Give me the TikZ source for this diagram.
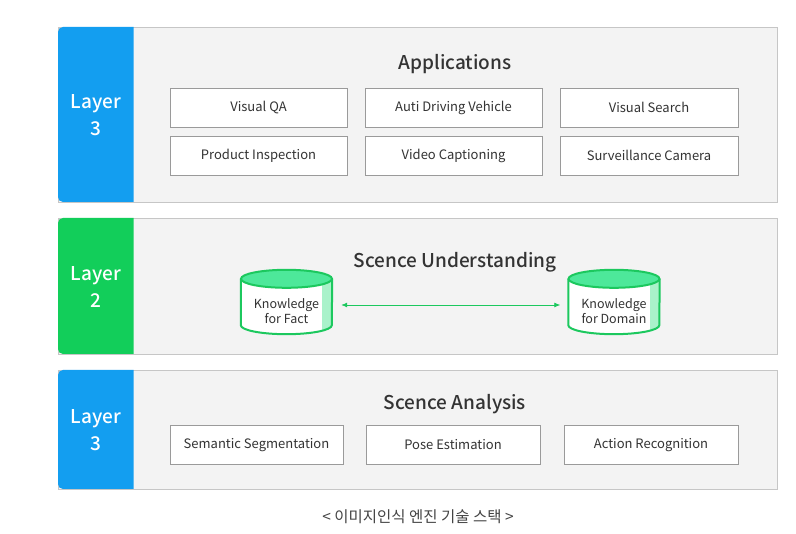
\documentclass[tikz,border=0pt]{standalone}
\usepackage{fontspec}
\setmainfont{Noto Sans CJK KR}[BoldFont={Noto Sans CJK KR Medium}]
\usetikzlibrary{arrows.meta}
\definecolor{tabblue}{HTML}{139EF0}
\definecolor{tabgreen}{HTML}{12CE5A}
\definecolor{panelfill}{HTML}{F3F3F3}
\definecolor{panelline}{HTML}{C6C6C6}
\definecolor{boxline}{HTML}{9A9A9A}
\definecolor{txt}{HTML}{333333}
\definecolor{captxt}{HTML}{444444}
\definecolor{cyltop}{HTML}{4DE89A}
\definecolor{cylline}{HTML}{1CC85E}
\definecolor{cylstrip}{HTML}{A9F2CA}
\tikzset{
  panel/.style={draw=panelline, fill=panelfill, line width=0.8pt},
  tablabel/.style={text=white, font=\fontsize{19}{27}\selectfont\bfseries, align=center},
  title/.style={text=txt, font=\fontsize{19}{22}\selectfont\bfseries},
  appbox/.style={draw=boxline, fill=white, line width=0.8pt, minimum height=39pt,
    text=txt, font=\fontsize{13}{15}\selectfont, inner sep=0pt},
  cyltext/.style={text=txt, font=\fontsize{12.5}{15}\selectfont, align=center,
    minimum width=91pt, minimum height=64pt, inner sep=0pt},
  link/.style={draw=cylline, line width=0.8pt, {Latex[length=6pt,width=5pt]}-{Latex[length=6pt,width=5pt]}},
}
% layer tab with rounded left corners: #1 colour, #2 top y, #3 bottom y
\newcommand{\layertab}[3]{%
  \fill[#1] (133.5,#2) [rounded corners=5pt] -- (58,#2) -- (58,#3) [sharp corners] -- (133.5,#3) -- cycle;
}
% cylinder drawn around a named node: #1 = node name
\newcommand{\drawcyl}[1]{%
  \begin{scope}
    \path[fill=white] ([yshift=-9pt]#1.north west) -- ([yshift=9pt]#1.south west)
      arc[start angle=180,end angle=360,x radius=45.5pt,y radius=9pt]
      -- ([yshift=-9pt]#1.north east) -- cycle;
    \clip ([yshift=-9pt]#1.north west) -- ([yshift=9pt]#1.south west)
      arc[start angle=180,end angle=360,x radius=45.5pt,y radius=9pt]
      -- ([yshift=-9pt]#1.north east) -- cycle;
    \fill[cylstrip] ([xshift=-10pt]#1.north east) rectangle (#1.south east);
  \end{scope}
  \draw[cylline, line width=2pt] ([yshift=-9pt]#1.north west) -- ([yshift=9pt]#1.south west)
      arc[start angle=180,end angle=360,x radius=45.5pt,y radius=9pt]
      -- ([yshift=-9pt]#1.north east);
  \draw[cylline, fill=cyltop, line width=2pt] ([yshift=-9pt]#1.north) ellipse[x radius=45.5pt,y radius=9pt];
}
\begin{document}
\begin{tikzpicture}[x=1pt,y=1pt]
\useasboundingbox[fill=white] (0,0) rectangle (796,-534);

% ---- Layer 3: Applications
\draw[panel] (58,-27) rectangle (777,-202);
\layertab{tabblue}{-27}{-202}
\node[tablabel] (l3a) at (96,-115) {Layer\\3};
\node[title] (tapp) at (455,-64) {Applications};
\node[appbox, minimum width=177pt] (b1) at (258.5,-107.5) {Visual QA};
\node[appbox, minimum width=177pt] (b2) at (453.5,-107.5) {Auti Driving Vehicle};
\node[appbox, minimum width=178pt] (b3) at (649,-107.5) {Visual Search};
\node[appbox, minimum width=177pt] (b4) at (258.5,-155.5) {Product Inspection};
\node[appbox, minimum width=177pt] (b5) at (453.5,-155.5) {Video Captioning};
\node[appbox, minimum width=178pt] (b6) at (649,-155.5) {Surveillance Camera};

% ---- Layer 2: Scene understanding
\draw[panel] (58,-218) rectangle (777,-354);
\layertab{tabgreen}{-218}{-354}
\node[tablabel] (l2) at (96,-287) {Layer\\2};
\node[title] (tund) at (455,-262) {Scence Understanding};
\node[cyltext] (kf) at (286.5,-302) {};
\node[cyltext] (kd) at (614,-302) {};
\drawcyl{kf}
\drawcyl{kd}
\node[cyltext] at (kf) [yshift=-9pt] {Knowledge\\for Fact};
\node[cyltext] at (kd) [yshift=-9pt] {Knowledge\\for Domain};
\draw[link] ([xshift=9pt,yshift=-3pt]kf.east) -- ([xshift=-8pt,yshift=-3pt]kd.west);

% ---- Layer 3: Scene analysis
\draw[panel] (58,-370) rectangle (777,-489);
\layertab{tabblue}{-370}{-489}
\node[tablabel] (l3b) at (96,-430) {Layer\\3};
\node[title] (tana) at (455,-404) {Scence Analysis};
\node[appbox, minimum width=173pt] (c1) at (256.5,-445) {Semantic Segmentation};
\node[appbox, minimum width=174pt] (c2) at (453,-445) {Pose Estimation};
\node[appbox, minimum width=174pt] (c3) at (651,-445) {Action Recognition};

% ---- caption
\node[text=captxt, font=\fontsize{15.5}{18}\selectfont] (cap) at (418,-517) {< 이미지인식 엔진 기술 스택 >};
\end{tikzpicture}
\end{document}
